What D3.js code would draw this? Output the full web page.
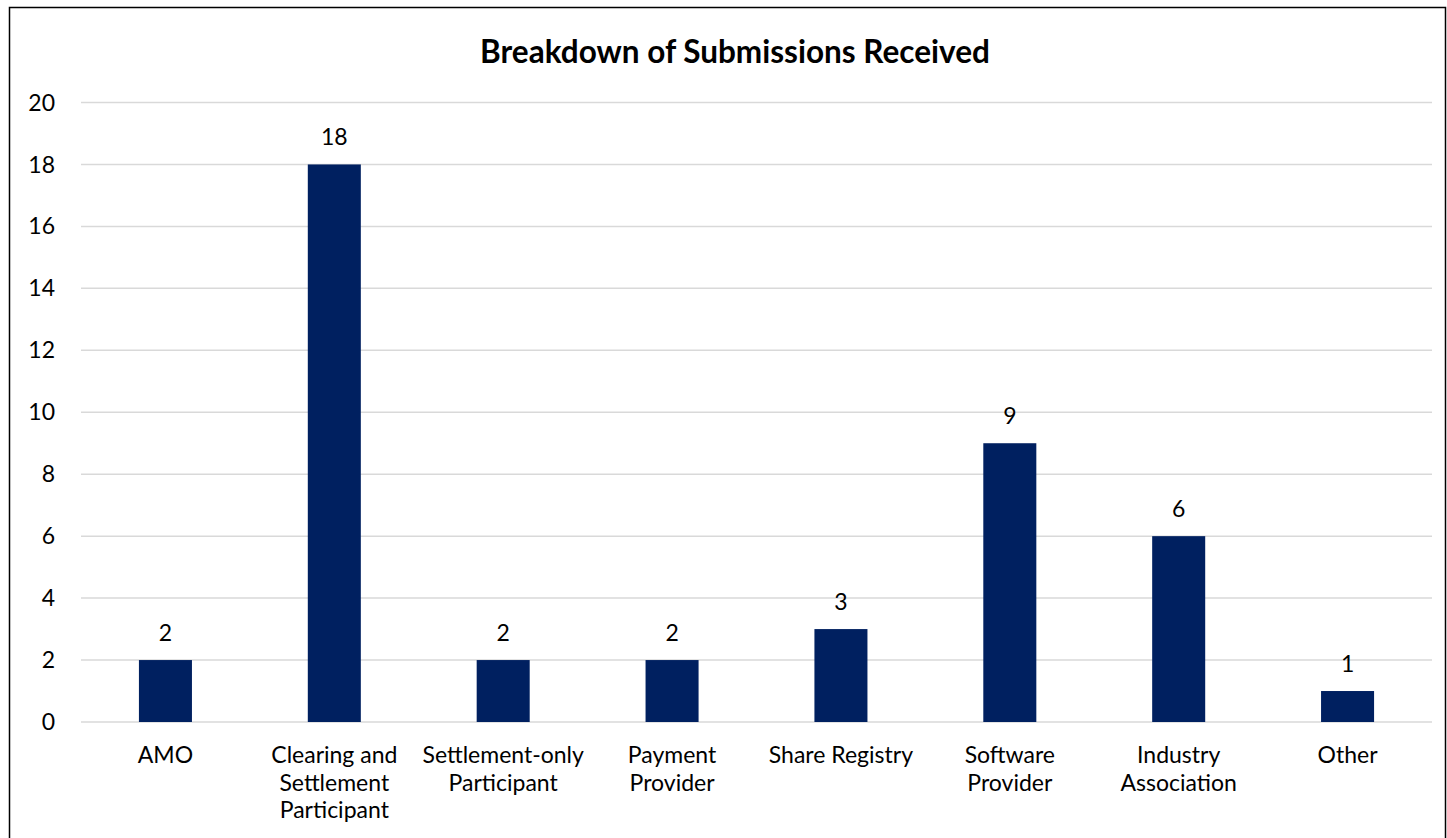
<!DOCTYPE html>
<html>
<head>
<meta charset="utf-8">
<script src="https://cdn.jsdelivr.net/npm/d3@7"></script>
<style>
  body { margin: 0; background: #fff; }
  text { font-family: Lato, "Liberation Sans", sans-serif; fill: #000; }
</style>
</head>
<body>
<div id="chart"></div>
<script>
// Chart data
const categories = ["AMO", "Clearing and Settlement Participant", "Settlement-only Participant",
    "Payment Provider", "Share Registry", "Software Provider", "Industry Association", "Other"];
const values = [2, 18, 2, 2, 3, 9, 6, 1];
const yTicks = [0, 2, 4, 6, 8, 10, 12, 14, 16, 18, 20];
const title = "Breakdown of Submissions Received";

const W = 1447, H = 838;
const margin = { top: 102.5, right: 15, bottom: 116, left: 81 };

const svg = d3.select("#chart").append("svg")
    .attr("width", W)
    .attr("height", H);

// Outer frame
svg.append("rect")
    .attr("x", 9.5).attr("y", 7.5)
    .attr("width", W - 11).attr("height", H)
    .attr("fill", "none")
    .attr("stroke", "#000")
    .attr("stroke-width", 1.5);

svg.append("text")
    .attr("x", 735)
    .attr("y", 63)
    .attr("text-anchor", "middle")
    .style("font-size", "31.5px")
    .style("font-weight", "bold")
    .text(title);

const x = d3.scaleBand()
    .domain(categories)
    .range([margin.left, W - margin.right])
    .paddingInner(0.686)
    .paddingOuter(0.343);

const y = d3.scaleLinear()
    .domain([0, 20])
    .range([H - margin.bottom, margin.top]);

// Gridlines
svg.append("g")
    .selectAll("line")
    .data(yTicks)
    .enter()
    .append("line")
    .attr("x1", margin.left)
    .attr("x2", W - margin.right)
    .attr("y1", d => y(d))
    .attr("y2", d => y(d))
    .attr("stroke", "#d9d9d9")
    .attr("stroke-width", 1.5);

// Y tick labels
svg.append("g")
    .selectAll("text")
    .data(yTicks)
    .enter()
    .append("text")
    .attr("x", 55)
    .attr("y", d => y(d))
    .attr("dy", "0.35em")
    .attr("text-anchor", "end")
    .style("font-size", "23px")
    .text(d => d);

// Bars
svg.append("g")
    .selectAll("rect")
    .data(values)
    .enter()
    .append("rect")
    .attr("x", (d, i) => x(categories[i]))
    .attr("y", d => y(d))
    .attr("width", x.bandwidth())
    .attr("height", d => y(0) - y(d))
    .attr("fill", "#002060");

// Value labels
svg.append("g")
    .selectAll("text")
    .data(values)
    .enter()
    .append("text")
    .attr("x", (d, i) => x(categories[i]) + x.bandwidth() / 2)
    .attr("y", d => y(d) - 19)
    .attr("text-anchor", "middle")
    .style("font-size", "23px")
    .text(d => d);

// Category labels, wrapped to the band
const catLabels = svg.append("g")
    .selectAll("text")
    .data(categories)
    .enter()
    .append("text")
    .attr("x", d => x(d) + x.bandwidth() / 2)
    .attr("y", 763)
    .attr("text-anchor", "middle")
    .style("font-size", "23px")
    .each(function(d) {
        const el = d3.select(this);
        const words = d.split(" ");
        let line = [];
        let tspan = el.append("tspan").attr("x", el.attr("x")).attr("dy", 0);
        words.forEach(w => {
            line.push(w);
            tspan.text(line.join(" "));
            if (tspan.node().getComputedTextLength() > 160 && line.length > 1) {
                line.pop();
                tspan.text(line.join(" "));
                line = [w];
                tspan = el.append("tspan").attr("x", el.attr("x")).attr("dy", 27.5).text(w);
            }
        });
    });
</script>
</body>
</html>
